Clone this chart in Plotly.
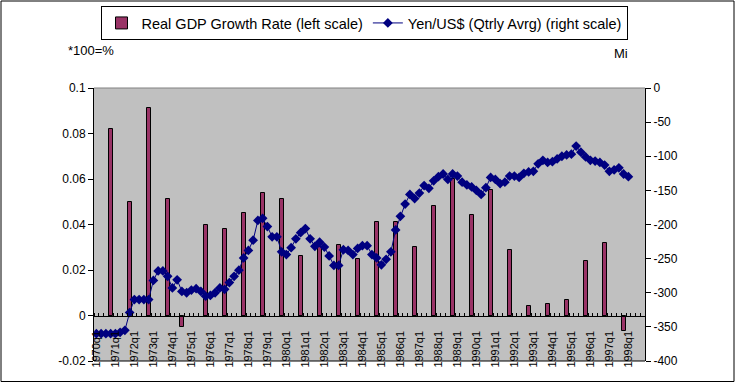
import plotly.graph_objects as go

# ---------------- data ----------------
years = list(range(1970, 1999))
quarters = [f"{y}q{q}" for y in years for q in range(1, 5)]  # 1970q1 .. 1998q4

tick_labels = [f"{y}q1" for y in years]

# Real GDP growth rate (left scale), placed at these quarters
gdp_quarters = ["1970q4", "1971q4", "1972q4", "1973q4", "1974q3", "1975q4", "1976q4",
                "1977q4", "1978q4", "1979q4", "1980q4", "1981q4", "1982q4", "1983q4",
                "1984q4", "1985q4", "1986q4", "1987q4", "1988q4", "1989q4", "1990q4",
                "1991q4", "1992q4", "1993q4", "1994q4", "1995q4", "1996q4", "1997q4"]
gdp_growth = [0.082, 0.050, 0.091, 0.051, -0.005, 0.040, 0.038,
              0.045, 0.054, 0.051, 0.026, 0.030, 0.031, 0.025,
              0.041, 0.041, 0.030, 0.048, 0.060, 0.044, 0.055,
              0.029, 0.004, 0.005, 0.007, 0.024, 0.032, -0.007]

# Yen/US$ quarterly average (right scale, plotted negative), 1970q1 .. 1998q1
yen_values = [-360, -360, -360, -360, -360, -358, -355, -329,
              -310, -310, -310, -310, -282, -268, -268, -276,
              -293, -281, -298, -300, -296, -294, -298, -305,
              -304, -300, -293, -295, -285, -276, -267, -249,
              -238, -223, -194, -191, -203, -218, -218, -240,
              -244, -234, -221, -212, -206, -221, -232, -226,
              -233, -246, -260, -260, -237, -238, -244, -235,
              -231, -231, -244, -249, -259, -251, -240, -208,
              -188, -170, -156, -162, -154, -143, -147, -136,
              -130, -126, -134, -126, -129, -138, -142, -145,
              -150, -156, -146, -131, -134, -140, -138, -129,
              -129, -131, -125, -123, -122, -111, -106, -109,
              -108, -104, -100, -98, -97, -85, -94, -101,
              -106, -107, -109, -113, -122, -120, -117, -126,
              -130]

left_ticks = [0.1, 0.08, 0.06, 0.04, 0.02, 0, -0.02]
left_labels = ["0.1", "0.08", "0.06", "0.04", "0.02", "0", "-0.02"]
right_ticks = [0, -50, -100, -150, -200, -250, -300, -350, -400]
right_labels = ["0", "-50", "-100", "-150", "-200", "-250", "-300", "-350", "-400"]

# ---------------- figure ----------------
W, H = 736, 383
ML, MR, MT, MB = 94, 91, 88, 22
PW, PH = W - ML - MR, H - MT - MB

FONT = "Liberation Sans, Arial, sans-serif"

gdp_x = [quarters.index(q) for q in gdp_quarters]
yen_x = list(range(len(yen_values)))
tick_x = [quarters.index(t) for t in tick_labels]

fig = go.Figure()
fig.add_trace(go.Bar(
    x=gdp_x, y=gdp_growth, width=0.8,
    marker=dict(color="#993366", line=dict(color="black", width=1)),
    name="Real GDP Growth Rate (left scale)",
))
fig.add_trace(go.Scatter(
    x=yen_x, y=yen_values, yaxis="y2", mode="lines+markers",
    line=dict(color="#000080", width=1),
    marker=dict(symbol="diamond", size=7.5, color="#000080"),
    name="Yen/US$ (Qtrly Avrg) (right scale)",
))

ylo, yhi = -0.02, 0.1
zero_pos = (0 - ylo) / (yhi - ylo)

fig.update_layout(
    width=W, height=H,
    margin=dict(l=ML, r=MR, t=MT, b=MB, pad=0, autoexpand=False),
    paper_bgcolor="white", plot_bgcolor="#C0C0C0",
    font=dict(family=FONT, size=13, color="black"),
    bargap=0,
    xaxis=dict(
        range=[-0.5, len(quarters) - 0.5], anchor="free", position=zero_pos,
        tickvals=tick_x, ticktext=tick_labels, tickangle=-90,
        ticks="", showgrid=False, zeroline=False, automargin=False,
        showline=True, linecolor="black", linewidth=1,
        tickfont=dict(size=11), ticklabelstandoff=10,
        minor=dict(ticks="inside", ticklen=3, tickcolor="black", tick0=-0.5, dtick=1, showgrid=False),
    ),
    yaxis=dict(
        range=[ylo, yhi], tickvals=left_ticks, ticktext=left_labels,
        ticks="outside", ticklen=5, tickcolor="black", automargin=False,
        showline=True, linecolor="black", linewidth=1,
        showgrid=False, zeroline=False, tickfont=dict(size=12),
    ),
    yaxis2=dict(
        range=[-400, 0], tickvals=right_ticks, ticktext=right_labels,
        overlaying="y", side="right", automargin=False,
        ticks="outside", ticklen=5, tickcolor="black",
        showline=True, linecolor="black", linewidth=1,
        showgrid=False, zeroline=False, tickfont=dict(size=12),
    ),
    legend=dict(
        orientation="h", x=(364 - ML) / PW, xanchor="center",
        y=1 + (MT - 6) / PH, yanchor="top",
        bordercolor="black", borderwidth=1, bgcolor="white",
        font=dict(size=14.5), itemwidth=30, tracegroupgap=0,
    ),
    showlegend=True,
)

# plot-area top/bottom border lines
fig.add_shape(type="line", xref="paper", yref="paper", x0=0, x1=1, y0=1, y1=1,
              line=dict(color="#808080", width=1))
fig.add_shape(type="line", xref="paper", yref="paper", x0=0, x1=1, y0=0, y1=0,
              line=dict(color="black", width=1))
# outer chart border
fig.add_shape(type="rect", xref="paper", yref="paper",
              x0=-(ML - 1) / PW, x1=1 + (MR - 2) / PW,
              y0=-(MB - 1.5) / PH, y1=1 + (MT - 1) / PH,
              line=dict(color="black", width=1))

fig.add_annotation(text="*100=%", xref="paper", yref="paper",
                   x=(66 - ML) / PW, y=1 + (MT - 50) / PH,
                   xanchor="left", yanchor="middle", showarrow=False, font=dict(size=13))
fig.add_annotation(text="Mi", xref="paper", yref="paper",
                   x=(612 - ML) / PW, y=1 + (MT - 53) / PH,
                   xanchor="left", yanchor="middle", showarrow=False, font=dict(size=13))

fig.write_html("out.html", config={"displayModeBar": False},
               post_script="document.body.style.margin='0';document.body.style.padding='0';")
